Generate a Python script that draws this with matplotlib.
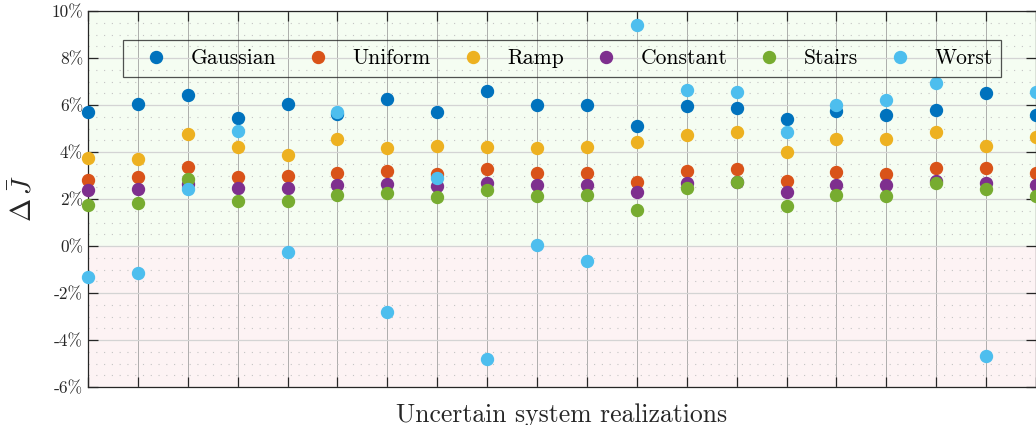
import numpy as np
import matplotlib
matplotlib.use("Agg")
import matplotlib.pyplot as plt
from matplotlib.ticker import MultipleLocator

plt.rcParams['font.family'] = 'cmr10'
plt.rcParams['mathtext.fontset'] = 'cm'
plt.rcParams['axes.unicode_minus'] = False

# realizations 1..20, values in percent
realization = np.arange(1, 21)
gaussian = [5.69, 6.06, 6.42, 5.45, 6.05, 5.63, 6.24, 5.69, 6.58, 6.02,
            5.98, 5.12, 5.95, 5.89, 5.42, 5.73, 5.59, 5.80, 6.50, 5.56]
uniform = [2.82, 2.92, 3.35, 2.95, 2.99, 3.12, 3.21, 3.07, 3.29, 3.12,
           3.12, 2.73, 3.21, 3.29, 2.75, 3.14, 3.07, 3.31, 3.31, 3.11]
ramp = [3.76, 3.69, 4.75, 4.23, 3.86, 4.54, 4.17, 4.24, 4.23, 4.19,
        4.20, 4.43, 4.73, 4.87, 3.99, 4.57, 4.56, 4.84, 4.27, 4.64]
constant = [2.37, 2.43, 2.64, 2.47, 2.47, 2.61, 2.62, 2.54, 2.67, 2.58,
            2.60, 2.30, 2.68, 2.72, 2.31, 2.61, 2.58, 2.75, 2.68, 2.60]
stairs = [1.75, 1.81, 2.84, 1.93, 1.93, 2.17, 2.26, 2.07, 2.38, 2.13,
          2.17, 1.55, 2.47, 2.74, 1.72, 2.18, 2.11, 2.68, 2.41, 2.11]
worst = [-1.33, -1.17, 2.44, 4.91, -0.26, 5.72, -2.80, 2.90, -4.79, 0.05,
         -0.64, 9.40, 6.63, 6.54, 4.84, 6.02, 6.23, 6.94, -4.70, 6.56]

series = [("Gaussian", gaussian, "#0072BD"),
          ("Uniform", uniform, "#D95319"),
          ("Ramp", ramp, "#EDB120"),
          ("Constant", constant, "#7E2F8E"),
          ("Stairs", stairs, "#77AC30"),
          ("Worst", worst, "#4DBEEE")]

yticks = [-6, -4, -2, 0, 2, 4, 6, 8, 10]
ytick_labels = ["%d%%" % v for v in yticks]

fig = plt.figure(figsize=(10.36, 4.25), dpi=100)
ax = fig.add_axes([88 / 1036, 38 / 425, 948 / 1036, 376 / 425])

ax.set_xlim(1, 20)
ax.set_ylim(-6, 10)

# shaded regions
ax.axhspan(0, 10, color="#f5fdf2", zorder=0)
ax.axhspan(-6, 0, color="#fdf3f4", zorder=0)

# grid
ax.set_xticks(realization)
ax.set_xticklabels([])
ax.set_yticks(yticks)
ax.set_yticklabels(ytick_labels)
ax.yaxis.set_minor_locator(MultipleLocator(0.5))
ax.grid(axis="x", which="major", color="#9a9a9a", lw=0.7, alpha=0.8, zorder=1)
ax.grid(axis="y", which="major", color="#d4d4d4", lw=0.9, zorder=1)
ax.grid(axis="y", which="minor", color="#c4c4c4", lw=0.8,
        linestyle=(0, (1, 6)), zorder=1)
ax.set_axisbelow(True)

ax.tick_params(which="major", direction="in", length=7, width=0.9,
               top=True, right=True, labelsize=12.5, colors="#262626")
ax.tick_params(which="minor", length=0, left=False, right=False)
for sp in ax.spines.values():
    sp.set_color("#262626")
    sp.set_linewidth(0.9)

for name, vals, col in series:
    ax.plot(realization, vals, linestyle="none", marker="o", markersize=8.6,
            color=col, label=name, clip_on=False, zorder=3)

leg = ax.legend(loc="center", bbox_to_anchor=(0.5, 0.874), ncol=6,
                fontsize=15.5, frameon=True, fancybox=False,
                facecolor="none", edgecolor="#262626",
                handlelength=2.3, handletextpad=0.45, columnspacing=0.8,
                borderpad=0.4)
leg.get_frame().set_linewidth(0.9)

ax.set_xlabel("Uncertain system realizations", fontsize=18.5,
              color="#262626", labelpad=8)
ax.set_ylabel(r"$\Delta\,\bar{J}$", fontsize=20, color="#262626", labelpad=10)

fig.savefig("out.png", dpi=100)
